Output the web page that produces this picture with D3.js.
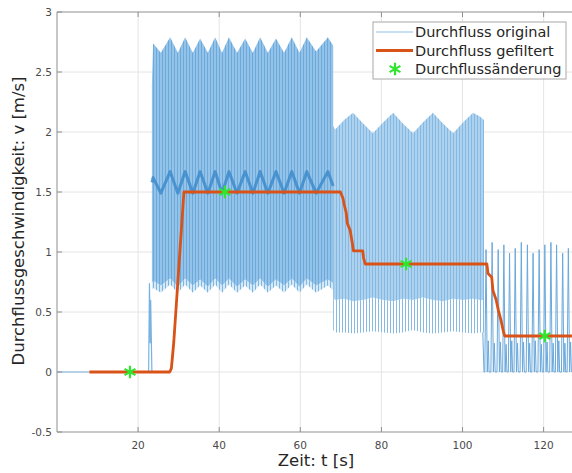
<!DOCTYPE html>
<html>
<head>
<meta charset="utf-8">
<script src="https://cdn.jsdelivr.net/npm/d3@7"></script>
<style>
	body { margin: 0; background: #fff; }
	svg { display: block; font-family: "DejaVu Sans", sans-serif; }
	.grid line { stroke: #e4e4e4; stroke-width: 1; }
	.tick-label { fill: #4a4a4a; font-size: 10.5px; }
</style>
</head>
<body>
<div class="chart"></div>
<script>

// axis ticks
const xTicks = [20, 40, 60, 80, 100, 120];
const yTicks = [-0.5, 0, 0.5, 1, 1.5, 2, 2.5, 3];

// original signal: flat start and first short spike
const preT = [0, 22.6, 22.8, 23.0, 23.1, 23.25, 23.4];
const preV = [0, 0, 0.74, 0.24, 0.6, 0.3, 0];

// original signal, block 1 (envelope)
const seg1T    = [23.4, 23.7, 25.6, 27.9, 29.8, 31.6, 33.5, 35.3, 37.2, 39.0, 40.7, 42.4, 44.4, 46.4, 48.3, 50.1, 52.0, 54.0, 56.0, 57.9, 59.8, 61.6, 63.9, 66.8, 68.1];
const seg1Hi   = [2.40, 2.74, 2.66, 2.79, 2.66, 2.79, 2.66, 2.78, 2.66, 2.79, 2.66, 2.79, 2.66, 2.78, 2.66, 2.79, 2.66, 2.78, 2.66, 2.79, 2.66, 2.79, 2.67, 2.79, 2.72];
const seg1Band = [1.58, 1.62, 1.49, 1.67, 1.49, 1.67, 1.49, 1.67, 1.49, 1.67, 1.49, 1.67, 1.49, 1.67, 1.49, 1.67, 1.49, 1.67, 1.49, 1.67, 1.49, 1.67, 1.49, 1.67, 1.55];
const seg1Mid  = [0.74, 0.76, 0.72, 0.78, 0.71, 0.78, 0.72, 0.77, 0.71, 0.78, 0.72, 0.78, 0.71, 0.77, 0.72, 0.78, 0.71, 0.77, 0.72, 0.78, 0.71, 0.78, 0.72, 0.77, 0.74];
const seg1Lo   = [0.68, 0.70, 0.66, 0.73, 0.66, 0.73, 0.66, 0.72, 0.66, 0.73, 0.66, 0.73, 0.66, 0.72, 0.66, 0.73, 0.66, 0.72, 0.66, 0.73, 0.66, 0.73, 0.66, 0.72, 0.68];

// original signal, block 2
const seg2T   = [68.1, 68.6, 70.8, 73.0, 75.5, 77.9, 80.4, 82.9, 85.3, 87.8, 90.2, 92.7, 95.2, 97.7, 100.1, 102.6, 104.3, 105.3];
const seg2Hi  = [2.05, 2.02, 2.10, 2.16, 2.07, 1.99, 2.08, 2.16, 2.07, 1.99, 2.08, 2.16, 2.07, 1.99, 2.08, 2.16, 2.13, 2.10];
const seg2Mid = [0.62, 0.60, 0.61, 0.59, 0.60, 0.62, 0.60, 0.59, 0.61, 0.60, 0.62, 0.60, 0.59, 0.61, 0.60, 0.61, 0.60, 0.60];
const seg2Lo  = [0.35, 0.33, 0.33, 0.32, 0.33, 0.34, 0.33, 0.32, 0.33, 0.35, 0.33, 0.32, 0.33, 0.34, 0.33, 0.32, 0.33, 0.33];

// original signal, block 3 (single spikes)
const seg3T    = [105.8, 107.3, 108.8, 110.2, 111.6, 113.0, 114.5, 116.0, 117.4, 118.9, 120.3, 121.8, 123.2, 124.7, 126.1];
const seg3Peak = [1.02, 1.08, 1.02, 1.06, 0.99, 1.03, 1.08, 1.06, 0.99, 1.02, 1.06, 1.08, 1.06, 0.99, 1.03];
const seg3Bump = [0.26, 0.24, 0.25, 0.23, 0.26, 0.24, 0.25, 0.24, 0.26, 0.23, 0.25, 0.24, 0.26, 0.24, 0.25];

// filtered signal
const filtT = [8, 27.8, 28.2, 28.4, 28.8, 29.5, 30.2, 30.9, 31.3, 69.9, 70.5, 70.8, 71.3, 71.6, 72.3, 72.8, 73.1, 75.4, 75.6, 76.0, 106.0, 106.3, 107.2, 107.5, 108.3, 108.8, 109.5, 110.0, 110.4, 127];
const filtV = [0, 0, 0.03, 0.1, 0.25, 0.6, 0.95, 1.3, 1.5, 1.5, 1.45, 1.4, 1.33, 1.24, 1.18, 1.08, 1.01, 1.01, 0.95, 0.9, 0.9, 0.82, 0.79, 0.68, 0.6, 0.52, 0.43, 0.35, 0.3, 0.3];

// flow changes
const changeT = [18.0, 41.4, 86.1, 120.3];
const changeV = [0, 1.5, 0.9, 0.3];

const legendLabels = ["Durchfluss original", "Durchfluss gefiltert", "Durchflussänderung"];

const width = 572;
const height = 473;
const margin = { left: 57, right: 0, top: 12, bottom: 41 };

const svg = d3.select(".chart")
	.append("svg")
		.attr("width", width)
		.attr("height", height);

const x = d3.scaleLinear()
	.domain([0, 127])
	.range([margin.left, width - margin.right]);
const y = d3.scaleLinear()
	.domain([-0.5, 3])
	.range([height - margin.bottom, margin.top]);

const defs = svg.append("defs");
defs.append("clipPath")
		.attr("id", "plot-clip")
	.append("rect")
		.attr("x", x(0))
		.attr("y", y(3))
		.attr("width", x(127) - x(0))
		.attr("height", y(-0.5) - y(3));

// stripes to mimic the dense oscillation lines
function stripes(id, bg, fg, step) {
	const p = defs.append("pattern")
		.attr("id", id)
		.attr("patternUnits", "userSpaceOnUse")
		.attr("width", step)
		.attr("height", 10);
	p.append("rect")
		.attr("width", step)
		.attr("height", 10)
		.attr("fill", bg);
	p.append("rect")
		.attr("width", 1)
		.attr("height", 10)
		.attr("fill", fg);
}
stripes("dense1", "#93c3e8", "#6ea9dc", 3);
stripes("sparse1", "#d6e9f7", "#7fb6e1", 3);
stripes("dense2", "#aed2ee", "#84b9e3", 3);
stripes("sparse2", "#ffffff", "#86bae3", 3);

// grid
const grid = svg.append("g").attr("class", "grid");
grid.selectAll(".gx")
	.data(xTicks).enter()
	.append("line")
		.attr("x1", (d) => x(d)).attr("x2", (d) => x(d))
		.attr("y1", y(3)).attr("y2", y(-0.5));
grid.selectAll(".gy")
	.data(yTicks.filter((d) => d > -0.5 && d < 3)).enter()
	.append("line")
		.attr("x1", x(0)).attr("x2", width)
		.attr("y1", (d) => y(d)).attr("y2", (d) => y(d));

const plot = svg.append("g").attr("clip-path", "url(#plot-clip)");

const zip = (ts, a, b) => ts.map((t, i) => ({ t: t, a: a[i], b: b[i] }));
const area = d3.area()
	.x((d) => x(d.t))
	.y0((d) => y(d.a))
	.y1((d) => y(d.b));
const line = d3.line()
	.x((d) => x(d[0]))
	.y((d) => y(d[1]));

// original: blocks 1 and 2
plot.append("path")
	.attr("d", area(zip(seg1T, seg1Lo, seg1Mid)))
	.attr("fill", "url(#sparse1)");
plot.append("path")
	.attr("d", area(zip(seg1T, seg1Mid, seg1Hi)))
	.attr("fill", "url(#dense1)");
plot.append("path")
	.attr("d", area(zip(seg2T, seg2Lo, seg2Mid)))
	.attr("fill", "url(#sparse2)");
plot.append("path")
	.attr("d", area(zip(seg2T, seg2Mid, seg2Hi)))
	.attr("fill", "url(#dense2)");

// darker band inside block 1
plot.append("path")
	.attr("d", line(seg1T.map((t, i) => [t, seg1Band[i]])))
	.attr("fill", "none")
	.attr("stroke", "#3a88c9")
	.attr("stroke-width", 3)
	.attr("stroke-linejoin", "round")
	.attr("opacity", 0.8);

// flat start + spike
plot.append("path")
	.attr("d", line(preT.map((t, i) => [t, preV[i]])))
	.attr("fill", "none")
	.attr("stroke", "#78b2e0")
	.attr("stroke-width", 1.2);

// block 3 spikes
const seg3Pts = [[105.0, 0.33], [105.3, 0]];
seg3T.forEach((t, i) => {
	seg3Pts.push([t - 0.3, 0], [t, seg3Peak[i]], [t + 0.3, 0], [t + 0.55, seg3Bump[i]], [t + 0.75, 0]);
});
plot.append("path")
	.attr("d", line(seg3Pts))
	.attr("fill", "none")
	.attr("stroke", "#6aa8db")
	.attr("stroke-width", 1)
	.attr("stroke-linejoin", "round");

// filtered
plot.append("path")
	.attr("d", line(filtT.map((t, i) => [t, filtV[i]])))
	.attr("fill", "none")
	.attr("stroke", "#d95319")
	.attr("stroke-width", 2.8)
	.attr("stroke-linejoin", "round");

// change markers
const star = d3.symbol(d3.symbolAsterisk, 110);
plot.selectAll(".mark")
	.data(changeT).enter()
	.append("path")
		.attr("class", "mark")
		.attr("transform", (d, i) => `translate(${x(d)}, ${y(changeV[i])})`)
		.attr("d", star)
		.attr("fill", "none")
		.attr("stroke", "#2ee62e")
		.attr("stroke-width", 2.2);

// axes box + ticks
const ax = svg.append("g").attr("stroke", "#8f8f8f").attr("stroke-width", 1);
ax.append("line").attr("x1", x(0)).attr("x2", width).attr("y1", y(-0.5)).attr("y2", y(-0.5));
ax.append("line").attr("x1", x(0)).attr("x2", width).attr("y1", y(3)).attr("y2", y(3));
ax.append("line").attr("x1", x(0)).attr("x2", x(0)).attr("y1", y(3)).attr("y2", y(-0.5));
ax.selectAll(".tb").data(xTicks).enter().append("line")
	.attr("x1", (d) => x(d)).attr("x2", (d) => x(d))
	.attr("y1", y(-0.5)).attr("y2", y(-0.5) - 5);
ax.selectAll(".tt").data(xTicks).enter().append("line")
	.attr("x1", (d) => x(d)).attr("x2", (d) => x(d))
	.attr("y1", y(3)).attr("y2", y(3) + 5);
ax.selectAll(".tl").data(yTicks).enter().append("line")
	.attr("x1", x(0)).attr("x2", x(0) + 5)
	.attr("y1", (d) => y(d)).attr("y2", (d) => y(d));

svg.selectAll(".xl")
	.data(xTicks).enter()
	.append("text")
		.attr("class", "tick-label")
		.attr("x", (d) => x(d))
		.attr("y", y(-0.5) + 17)
		.attr("text-anchor", "middle")
		.text((d) => d);
svg.selectAll(".yl")
	.data(yTicks).enter()
	.append("text")
		.attr("class", "tick-label")
		.attr("x", x(0) - 5)
		.attr("y", (d) => y(d))
		.attr("dy", "0.35em")
		.attr("text-anchor", "end")
		.text((d) => d);

// axis titles
svg.append("text")
	.attr("x", 316)
	.attr("y", 466)
	.attr("text-anchor", "middle")
	.attr("font-size", 16.5)
	.attr("fill", "#262626")
	.text("Zeit: t [s]");
svg.append("text")
	.attr("transform", "translate(24, 221) rotate(-90)")
	.attr("text-anchor", "middle")
	.attr("font-size", 16.5)
	.attr("fill", "#262626")
	.text("Durchflussgeschwindigkeit: v [m/s]");

// legend
const legend = svg.append("g").attr("transform", "translate(373, 22)");
legend.append("rect")
	.attr("width", 193)
	.attr("height", 57)
	.attr("fill", "#fff")
	.attr("stroke", "#a8a8a8");
const rows = legend.selectAll(".row")
	.data(legendLabels).enter()
	.append("g")
		.attr("transform", (d, i) => `translate(0, ${10 + i * 18.5})`);
rows.append("text")
	.attr("x", 42)
	.attr("dy", "0.36em")
	.attr("font-size", 14.5)
	.attr("fill", "#262626")
	.text((d) => d);
legend.append("line")
	.attr("x1", 3).attr("x2", 40).attr("y1", 10).attr("y2", 10)
	.attr("stroke", "#8ec0e6").attr("stroke-width", 1.2);
legend.append("line")
	.attr("x1", 3).attr("x2", 40).attr("y1", 28.5).attr("y2", 28.5)
	.attr("stroke", "#d95319").attr("stroke-width", 2.8);
legend.append("path")
	.attr("transform", "translate(22, 47)")
	.attr("d", star)
	.attr("fill", "none")
	.attr("stroke", "#2ee62e")
	.attr("stroke-width", 2.2);

</script>
</body>
</html>
